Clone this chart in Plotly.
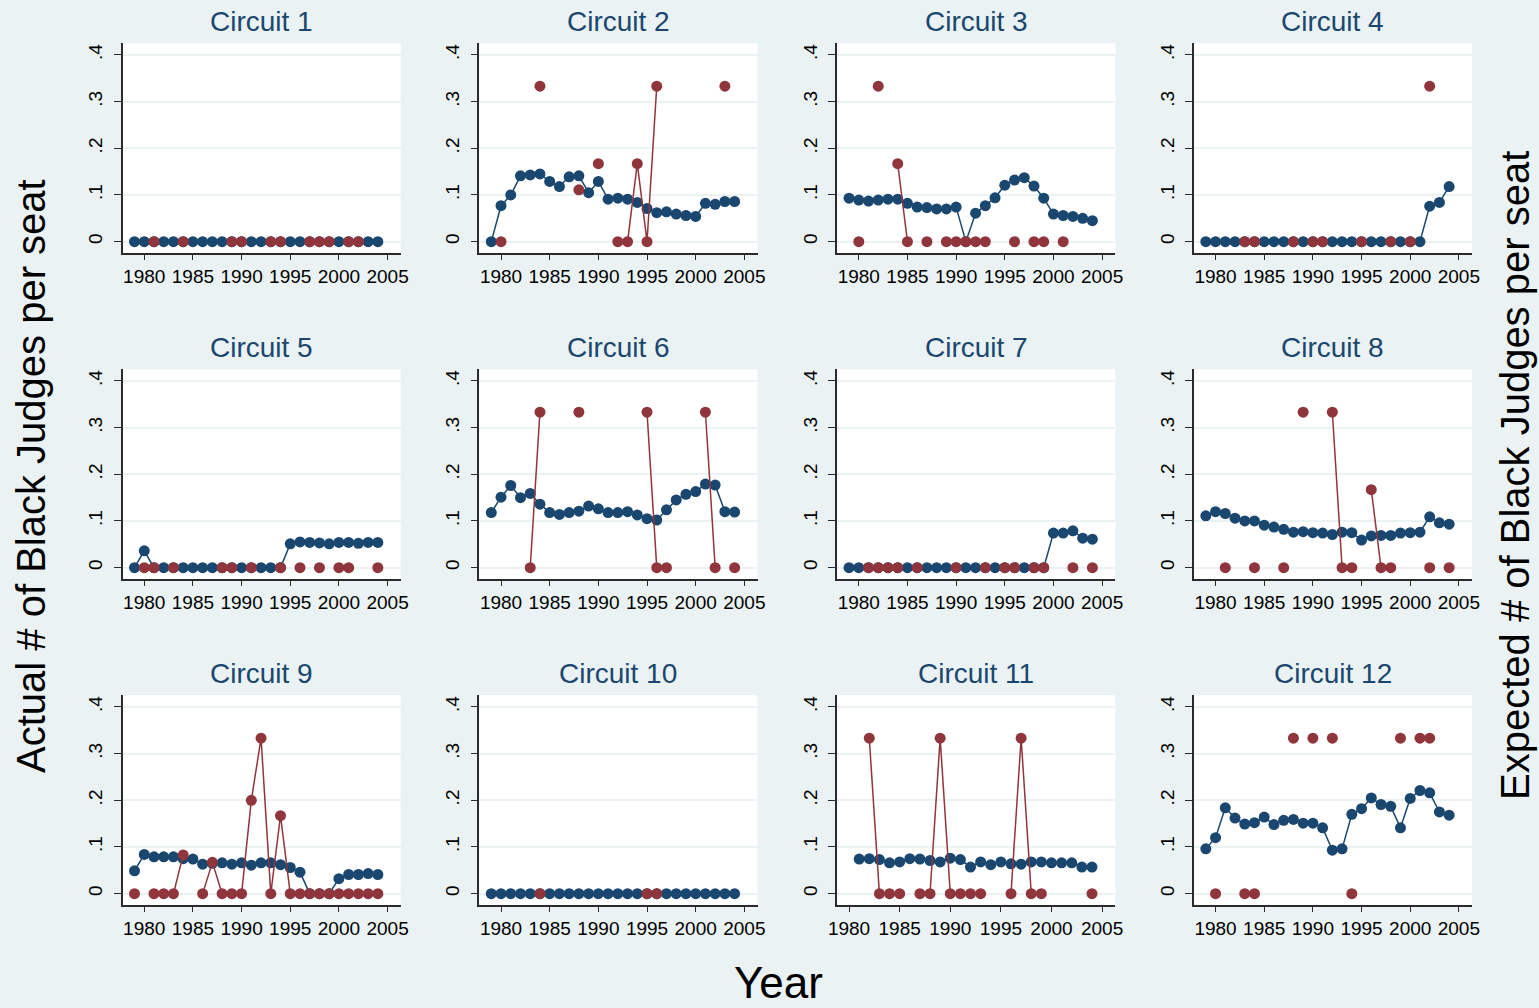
import plotly.graph_objects as go

N = None

# Years covered by every circuit series
years = list(range(1979, 2005))

# Expected number of Black judges per seat (blue) and actual (red), by circuit.
# None marks a year with no observation; the line breaks there.
exp_c1 = [0] * 26
act_c1 = [N, N, 0, N, N, 0, N, N, N, N, 0, 0, N, N, 0, 0, N, N, 0, 0, 0, N, 0, 0, N, N]

exp_c2 = [0, .077, .100, .141, .143, .145, .129, .118, .139, .141, .105, .129, .091,
          .093, .091, .084, .071, .062, .064, .059, .056, .054, .082, .080, .086, .086]
act_c2 = [N, 0, N, N, N, .333, N, N, N, .111, N, .167, N, 0, 0, .167, 0, .333, N, N,
          N, N, N, N, .333, N]

exp_c3 = [.093, .089, .087, .089, .091, .091, .082, .074, .073, .070, .070, .074, 0,
          .061, .077, .094, .121, .132, .137, .119, .093, .059, .056, .054, .050, .045]
act_c3 = [N, 0, N, .333, N, .167, 0, N, 0, N, 0, 0, 0, 0, 0, N, N, 0, N, 0, 0, N, 0,
          N, N, N]

exp_c4 = [0, 0, 0, 0, 0, 0, 0, 0, 0, 0, 0, 0, 0, 0, 0, 0, 0, 0, 0, 0, 0, 0, 0,
          .076, .084, .118]
act_c4 = [N, N, N, N, 0, 0, N, N, N, 0, N, 0, 0, N, N, N, 0, N, N, 0, N, 0, N, .333,
          N, N]

exp_c5 = [0, .036, 0, 0, 0, 0, 0, 0, 0, 0, 0, 0, 0, 0, 0, 0, .051, .055, .054, .053,
          .051, .054, .054, .052, .054, .054]
act_c5 = [N, 0, 0, N, 0, N, N, N, N, 0, 0, N, 0, N, N, 0, N, 0, N, 0, N, 0, 0, N, N, 0]

exp_c6 = [.118, .151, .176, .150, .159, .136, .118, .114, .118, .121, .132, .126, .118,
          .118, .120, .113, .105, .102, .124, .145, .157, .163, .179, .177, .120, .119]
act_c6 = [N, N, N, N, 0, .333, N, N, N, .333, N, N, N, N, N, N, .333, 0, 0, N, N, N,
          .333, 0, N, 0]

exp_c7 = [0, 0, 0, 0, 0, 0, 0, 0, 0, 0, 0, 0, 0, 0, 0, 0, 0, 0, 0, 0, 0,
          .074, .074, .079, .063, .061]
act_c7 = [N, N, 0, 0, 0, 0, N, 0, N, N, N, 0, N, N, 0, N, 0, 0, N, 0, 0, N, N, 0, N, 0]

exp_c8 = [.111, .120, .116, .106, .100, .100, .091, .087, .082, .076, .077, .075, .074,
          .071, .076, .075, .059, .068, .069, .069, .074, .075, .076, .109, .096, .093]
act_c8 = [N, N, 0, N, N, 0, N, N, 0, N, .333, N, N, .333, 0, 0, N, .167, 0, 0, N, N, N,
          0, N, 0]

exp_c9 = [.049, .084, .079, .079, .079, .075, .074, .063, .065, .066, .063, .066, .061,
          .066, .066, .062, .056, .046, 0, 0, 0, .032, .041, .041, .043, .041]
act_c9 = [0, N, 0, 0, 0, .083, N, 0, .067, 0, 0, 0, .2, .333, 0, .167, 0, 0, 0, 0, 0,
          0, 0, 0, 0, 0]

exp_c10 = [0] * 26
act_c10 = [N, N, N, N, N, 0, N, N, N, N, N, N, N, N, N, N, 0, 0, N, N, N, N, N, N, N, N]

exp_c11 = [N, N, .074, .075, .073, .066, .068, .075, .074, .071, .068, .076, .073, .057,
           .068, .062, .068, .064, .063, .068, .068, .066, .066, .066, .057, .057]
act_c11 = [N, N, N, .333, 0, 0, 0, N, 0, 0, .333, 0, 0, 0, 0, N, N, 0, .333, 0, 0, N, N,
           N, N, 0]

exp_c12 = [.096, .120, .184, .162, .149, .152, .164, .148, .157, .159, .151, .151, .141,
           .093, .096, .170, .182, .205, .191, .187, .141, .204, .221, .216, .175, .168]
act_c12 = [N, 0, N, N, 0, 0, N, N, N, .333, N, .333, N, .333, N, 0, N, N, N, N, .333, N,
           .333, .333, N, N]

circuit_titles = ["Circuit %d" % i for i in range(1, 13)]
expected = [exp_c1, exp_c2, exp_c3, exp_c4, exp_c5, exp_c6,
            exp_c7, exp_c8, exp_c9, exp_c10, exp_c11, exp_c12]
actual = [act_c1, act_c2, act_c3, act_c4, act_c5, act_c6,
          act_c7, act_c8, act_c9, act_c10, act_c11, act_c12]

x_ticks = [1980, 1985, 1990, 1995, 2000, 2005]
y_ticks = [0, 0.1, 0.2, 0.3, 0.4]
y_tick_text = ["0", ".1", ".2", ".3", ".4"]

# ---- styling -------------------------------------------------------------
W, H = 1539, 1008
BG = "#EAF2F3"
BLUE = "#1a476f"
RED = "#90353b"
AXIS = "#2b2b2b"
FONT = "Liberation Sans, Arial, Helvetica, sans-serif"

# The page body keeps an 8px margin on each side, so the figure ends up
# squeezed into the inner width; lay things out in page pixels and convert.
BODY = 8
INNER = W - 2 * BODY


def fx(px):
    """Page x pixel -> paper fraction."""
    return (px - BODY) / INNER


def fy(py):
    """Page y pixel -> paper fraction."""
    return 1 - py / H


col_left = [121.7, 478.7, 836.7, 1193.7]
col_w = 278.3
row_top = [43.3, 369.3, 695.3]
row_h = 210.0

fig = go.Figure()
annotations = []

for k in range(12):
    r, c = divmod(k, 4)
    ax = "" if k == 0 else str(k + 1)
    x0 = fx(col_left[c])
    x1 = fx(col_left[c] + col_w)
    y1 = fy(row_top[r])
    y0 = fy(row_top[r] + row_h)

    # x range spans the data years and the ticks, padded like the source software
    data_years = [yr for yr, v in zip(years, expected[k]) if v is not None]
    lo = min(min(data_years), x_ticks[0])
    hi = max(max(data_years), x_ticks[-1])
    span = hi - lo
    xr = [lo - 0.047 * span, hi + 0.052 * span]

    fig.add_trace(go.Scatter(
        x=years, y=expected[k], mode="lines+markers",
        line=dict(color=BLUE, width=1.5),
        marker=dict(color=BLUE, size=11),
        xaxis="x" + ax, yaxis="y" + ax, showlegend=False, connectgaps=False))
    fig.add_trace(go.Scatter(
        x=years, y=actual[k], mode="lines+markers",
        line=dict(color=RED, width=1.5),
        marker=dict(color=RED, size=11),
        xaxis="x" + ax, yaxis="y" + ax, showlegend=False, connectgaps=False))

    fig.update_layout(**{
        "xaxis" + ax: dict(
            domain=[x0, x1], anchor="y" + ax, range=xr,
            tickvals=x_ticks, ticks="outside", ticklen=5, tickwidth=1.2,
            tickcolor=AXIS, showline=True, linecolor=AXIS, linewidth=1.5,
            showgrid=False, zeroline=False,
            tickfont=dict(family=FONT, size=19, color="black")),
        "yaxis" + ax: dict(
            domain=[y0, y1], anchor="x" + ax, range=[-0.025, 0.425],
            tickvals=y_ticks, ticktext=y_tick_text, tickangle=-90,
            ticks="outside", ticklen=7, tickwidth=1.2, tickcolor=AXIS,
            ticklabelstandoff=4,
            showline=True, linecolor=AXIS, linewidth=1.5,
            showgrid=True, gridcolor=BG, gridwidth=1.5, zeroline=False,
            tickfont=dict(family=FONT, size=19, color="black")),
    })

    annotations.append(dict(
        text=circuit_titles[k], x=(x0 + x1) / 2, y=fy(row_top[r] - 22),
        xref="paper", yref="paper", xanchor="center", yanchor="middle",
        showarrow=False, font=dict(family=FONT, size=28, color=BLUE)))

annotations += [
    dict(text="Actual # of Black Judges per seat", x=fx(30), y=fy(476),
         xref="paper", yref="paper", textangle=-90, showarrow=False,
         xanchor="center", yanchor="middle",
         font=dict(family=FONT, size=40, color="black")),
    dict(text="Expected # of Black Judges per seat", x=fx(1515), y=fy(476),
         xref="paper", yref="paper", textangle=-90, showarrow=False,
         xanchor="center", yanchor="middle",
         font=dict(family=FONT, size=40, color="black")),
    dict(text="Year", x=fx(778), y=0,
         xref="paper", yref="paper", showarrow=False,
         xanchor="center", yanchor="bottom", borderpad=0,
         font=dict(family=FONT, size=44, color="black")),
]

fig.update_layout(
    width=W, height=H, margin=dict(l=0, r=0, t=0, b=0),
    paper_bgcolor=BG, plot_bgcolor="white",
    annotations=annotations, hovermode=False,
)

fig.write_html("out.html")
